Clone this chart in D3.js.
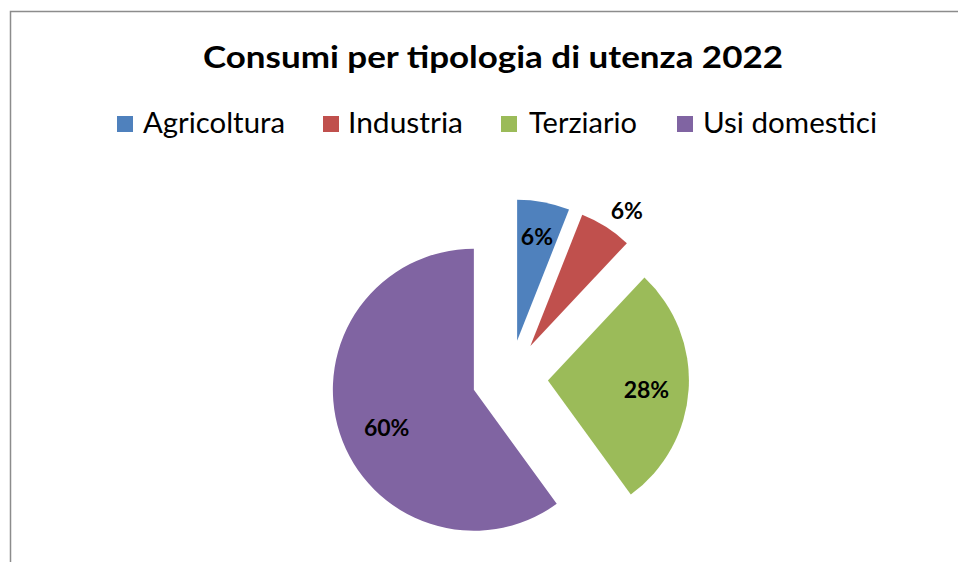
<!DOCTYPE html>
<html>
<head>
<meta charset="utf-8">
<script src="https://cdn.jsdelivr.net/npm/d3@7"></script>
<style>
  html, body { margin: 0; padding: 0; background: #fff; }
  svg { display: block; font-family: Lato, "Open Sans", sans-serif; }
</style>
</head>
<body>
<svg id="chart" width="958" height="562"></svg>
<script>
// Data
const categories = ["Agricoltura", "Industria", "Terziario", "Usi domestici"];
const values = [6, 6, 28, 60];
const colors = ["#4F81BD", "#C0504D", "#9BBB59", "#8064A2"];
const title = "Consumi per tipologia di utenza 2022";

const width = 958, height = 562;
const svg = d3.select("#chart");

// chart border (open to the right and bottom, cropped screenshot)
svg.append("rect")
  .attr("x", 10.5).attr("y", 11.5)
  .attr("width", 1000).attr("height", 600)
  .attr("fill", "#fff")
  .attr("stroke", "#8c8c8c")
  .attr("stroke-width", 1.5);

// Title
svg.append("text")
  .attr("x", 203).attr("y", 68)
  .attr("font-size", 31)
  .attr("font-weight", "bold")
  .attr("fill", "#000")
  .attr("textLength", 580)
  .attr("lengthAdjust", "spacingAndGlyphs")
  .text(title);

// Legend (square x, text x, text width)
const legendX = [117, 323, 501, 677];
const legendTextX = [143, 348, 529, 703];
const legendTextW = [142, 115, 108, 174];
const legend = svg.append("g").attr("class", "legend");
categories.forEach((c, i) => {
  legend.append("rect")
    .attr("x", legendX[i]).attr("y", 116)
    .attr("width", 16).attr("height", 16)
    .attr("fill", colors[i]);
  legend.append("text")
    .attr("x", legendTextX[i]).attr("y", 133)
    .attr("font-size", 28)
    .attr("fill", "#000")
    .attr("textLength", legendTextW[i])
    .attr("lengthAdjust", "spacingAndGlyphs")
    .text(c);
});

// Pie
const cx = 510, cy = 378, r = 141, explode = 38;
const pie = d3.pie().sort(null).value(d => d.value);
const arcs = pie(categories.map((name, i) => ({ name, value: values[i], color: colors[i] })));
const arc = d3.arc().innerRadius(0).outerRadius(r);

const total = d3.sum(values);
const pieG = svg.append("g").attr("transform", `translate(${cx},${cy})`);

function offset(d, dist) {
  const a = (d.startAngle + d.endAngle) / 2;
  return [Math.sin(a) * dist, -Math.cos(a) * dist];
}

const slice = pieG.selectAll("g.slice")
  .data(arcs)
  .enter()
  .append("g")
  .attr("class", "slice")
  .attr("transform", d => `translate(${offset(d, explode)})`);

slice.append("path")
  .attr("d", arc)
  .attr("fill", d => d.data.color);

// labels: "best fit" — small Industria slice gets its label outside
const labelK = { "Agricoltura": 0.75, "Industria": 1.17, "Terziario": 0.7, "Usi domestici": 0.68 };
const labelNudge = { "Agricoltura": [0, 0], "Industria": [8, 4], "Terziario": [0, 3], "Usi domestici": [4, 9] };
slice.append("text")
  .attr("transform", d => {
    const [x, y] = offset(d, r * labelK[d.data.name]);
    const [nx, ny] = labelNudge[d.data.name];
    return `translate(${x + nx},${y + ny})`;
  })
  .attr("text-anchor", "middle")
  .attr("dy", "0.35em")
  .attr("font-size", 23)
  .attr("font-weight", "bold")
  .attr("fill", "#000")
  .text(d => Math.round(d.data.value / total * 100) + "%");
</script>
</body>
</html>
